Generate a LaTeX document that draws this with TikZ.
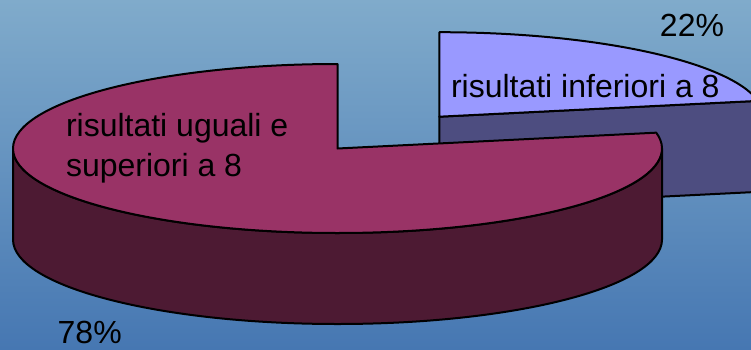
\documentclass[tikz,border=0pt]{standalone}
\usepackage{fontspec}
\setmainfont{Liberation Sans}
\definecolor{bgtop}{HTML}{80ABCB}
\definecolor{bgbot}{HTML}{4677B2}
\definecolor{hightop}{HTML}{993366}
\definecolor{highside}{HTML}{4D1A33}
\definecolor{lowtop}{HTML}{9999FF}
\definecolor{lowside}{HTML}{4D4D80}
\begin{document}
\begin{tikzpicture}[x=1pt, y=1pt, line width=2pt, line join=round,
      rad/.style={x radius=324.5, y radius=84.5},
      lbl/.style={inner sep=0pt, font=\fontsize{32}{40}\selectfont, anchor=base west}]
      \shade[top color=bgtop, bottom color=bgbot] (0,0) rectangle (751,349);
      \useasboundingbox (0,0) rectangle (751,349);
      \clip (0,0) rectangle (751,349);
      \coordinate (HC) at (337.5,200.5);
      \coordinate (LC) at (439.3,232.3);
      \draw[fill=lowside] (LC) -- ++(10.8:324.5 and 84.5) -- ++(0,-91)
         -- ++(190.8:324.5 and 84.5) -- cycle;
      \draw[fill=lowtop] (LC) -- ++(10.8:324.5 and 84.5)
         arc[rad, start angle=10.8, end angle=90] -- cycle;
      \draw[fill=highside] (HC) ++(-324.5,0) arc[rad, start angle=180, end angle=360]
         -- ++(0,-91) arc[rad, start angle=360, end angle=180] -- cycle;
      \draw[fill=hightop] (HC) -- ++(0,84.5)
         arc[rad, start angle=90, end angle=370.8] -- cycle;
      \node (LowPct) [lbl, anchor=base] at (692,312.3) {
         22\%
      };
      \node (Low) [lbl] at (450,251.7) {
         risultati inferiori a 8
      };
      \node (High) [lbl, align=left] at (65,173) {
         risultati uguali e\\superiori a 8
      };
      \node (HighPct) [lbl] at (56.7,6) {
         78\%
      };
\end{tikzpicture}
\end{document}
